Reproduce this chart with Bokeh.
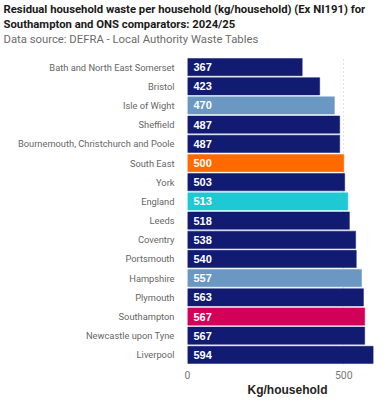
from bokeh.plotting import figure
from bokeh.models import ColumnDataSource, FactorRange, Range1d, FixedTicker, Title
from bokeh.embed import file_html
from bokeh.resources import INLINE
from bokeh.core.properties import value

# Residual household waste per household (kg/household), 2024/25
areas = [
    "Bath and North East Somerset", "Bristol", "Isle of Wight", "Sheffield",
    "Bournemouth, Christchurch and Poole", "South East", "York", "England",
    "Leeds", "Coventry", "Portsmouth", "Hampshire", "Plymouth",
    "Southampton", "Newcastle upon Tyne", "Liverpool",
]
kg_per_household = [367, 423, 470, 487, 487, 500, 503, 513, 518, 538, 540, 557, 563, 567, 567, 594]

NAVY = "#111b72"
LIGHT_BLUE = "#6b98c2"
ORANGE = "#ff6a00"
CYAN = "#1fc9d3"
CRIMSON = "#d30059"
highlight = {
    "Isle of Wight": LIGHT_BLUE,
    "Hampshire": LIGHT_BLUE,
    "South East": ORANGE,
    "England": CYAN,
    "Southampton": CRIMSON,
}
colors = [highlight.get(a, NAVY) for a in areas]

src = ColumnDataSource(dict(
    area=areas,
    kg=kg_per_household,
    color=colors,
    label=[str(v) for v in kg_per_household],
    zero=[0] * len(areas),
))

FONT = "Liberation Sans"
UI_FONT = "Roboto"
FRAME_LEFT = 187

p = figure(
    width=392, height=407,
    y_range=FactorRange(*reversed(areas), range_padding=0),
    x_range=Range1d(0, 640),
    output_backend="svg", toolbar_location=None,
    min_border_left=FRAME_LEFT, min_border_right=5, min_border_top=0, min_border_bottom=43,
)

# title block (stacked outward from the frame), pulled left to the page edge
shift = -(FRAME_LEFT - 3)
p.title.text = ""
p.add_layout(Title(text=" ", text_font_size="9px", offset=shift, standoff=0), "above")
p.add_layout(Title(text="Data source: DEFRA - Local Authority Waste Tables",
                   text_font=UI_FONT, text_font_size="11.3px", text_font_style="normal",
                   text_color="#6b6b6b", offset=shift, standoff=0), "above")
p.add_layout(Title(text="Southampton and ONS comparators: 2024/25",
                   text_font=UI_FONT, text_font_size="11.3px", text_font_style="bold",
                   text_color="#1a1a1a", offset=shift, standoff=0), "above")
p.add_layout(Title(text="Residual household waste per household (kg/household) (Ex NI191) for",
                   text_font=UI_FONT, text_font_size="11.3px", text_font_style="bold",
                   text_color="#1a1a1a", offset=shift, standoff=0), "above")

p.hbar(y="area", right="kg", left=0, height=0.9, source=src,
       fill_color="color", line_color="color", line_width=0.5)

p.text(x="zero", y="area", text="label", source=src, x_offset=6,
       text_align="left", text_baseline="middle", text_color="white",
       text_font=value(FONT), text_font_size="11px", text_font_style="bold")

# axes
p.yaxis.axis_line_color = None
p.yaxis.major_tick_line_color = None
p.yaxis.minor_tick_line_color = None
p.yaxis.major_label_standoff = 7
p.yaxis.major_label_text_font = UI_FONT
p.yaxis.major_label_text_font_size = "9.3px"
p.yaxis.major_label_text_color = "#666666"

p.xaxis.ticker = FixedTicker(ticks=[0, 500])
p.xaxis.axis_line_color = None
p.xaxis.major_tick_line_color = None
p.xaxis.minor_tick_line_color = None
p.xaxis.major_label_standoff = 0
p.xaxis.major_label_text_font = UI_FONT
p.xaxis.major_label_text_font_size = "10.5px"
p.xaxis.major_label_text_color = "#777777"
p.xaxis.axis_label = "Kg/household"
p.xaxis.axis_label_text_font = FONT
p.xaxis.axis_label_text_font_size = "12px"
p.xaxis.axis_label_text_font_style = "bold"
p.xaxis.axis_label_text_color = "#252423"
p.xaxis.axis_label_standoff = 1

p.ygrid.grid_line_color = None
p.xgrid.grid_line_color = "#c8c8c8"
p.xgrid.grid_line_dash = "1 3"
p.xgrid.grid_line_width = 1

p.outline_line_color = None
p.background_fill_color = "white"
p.border_fill_color = "white"

open("out.html", "w").write(file_html(p, INLINE))
